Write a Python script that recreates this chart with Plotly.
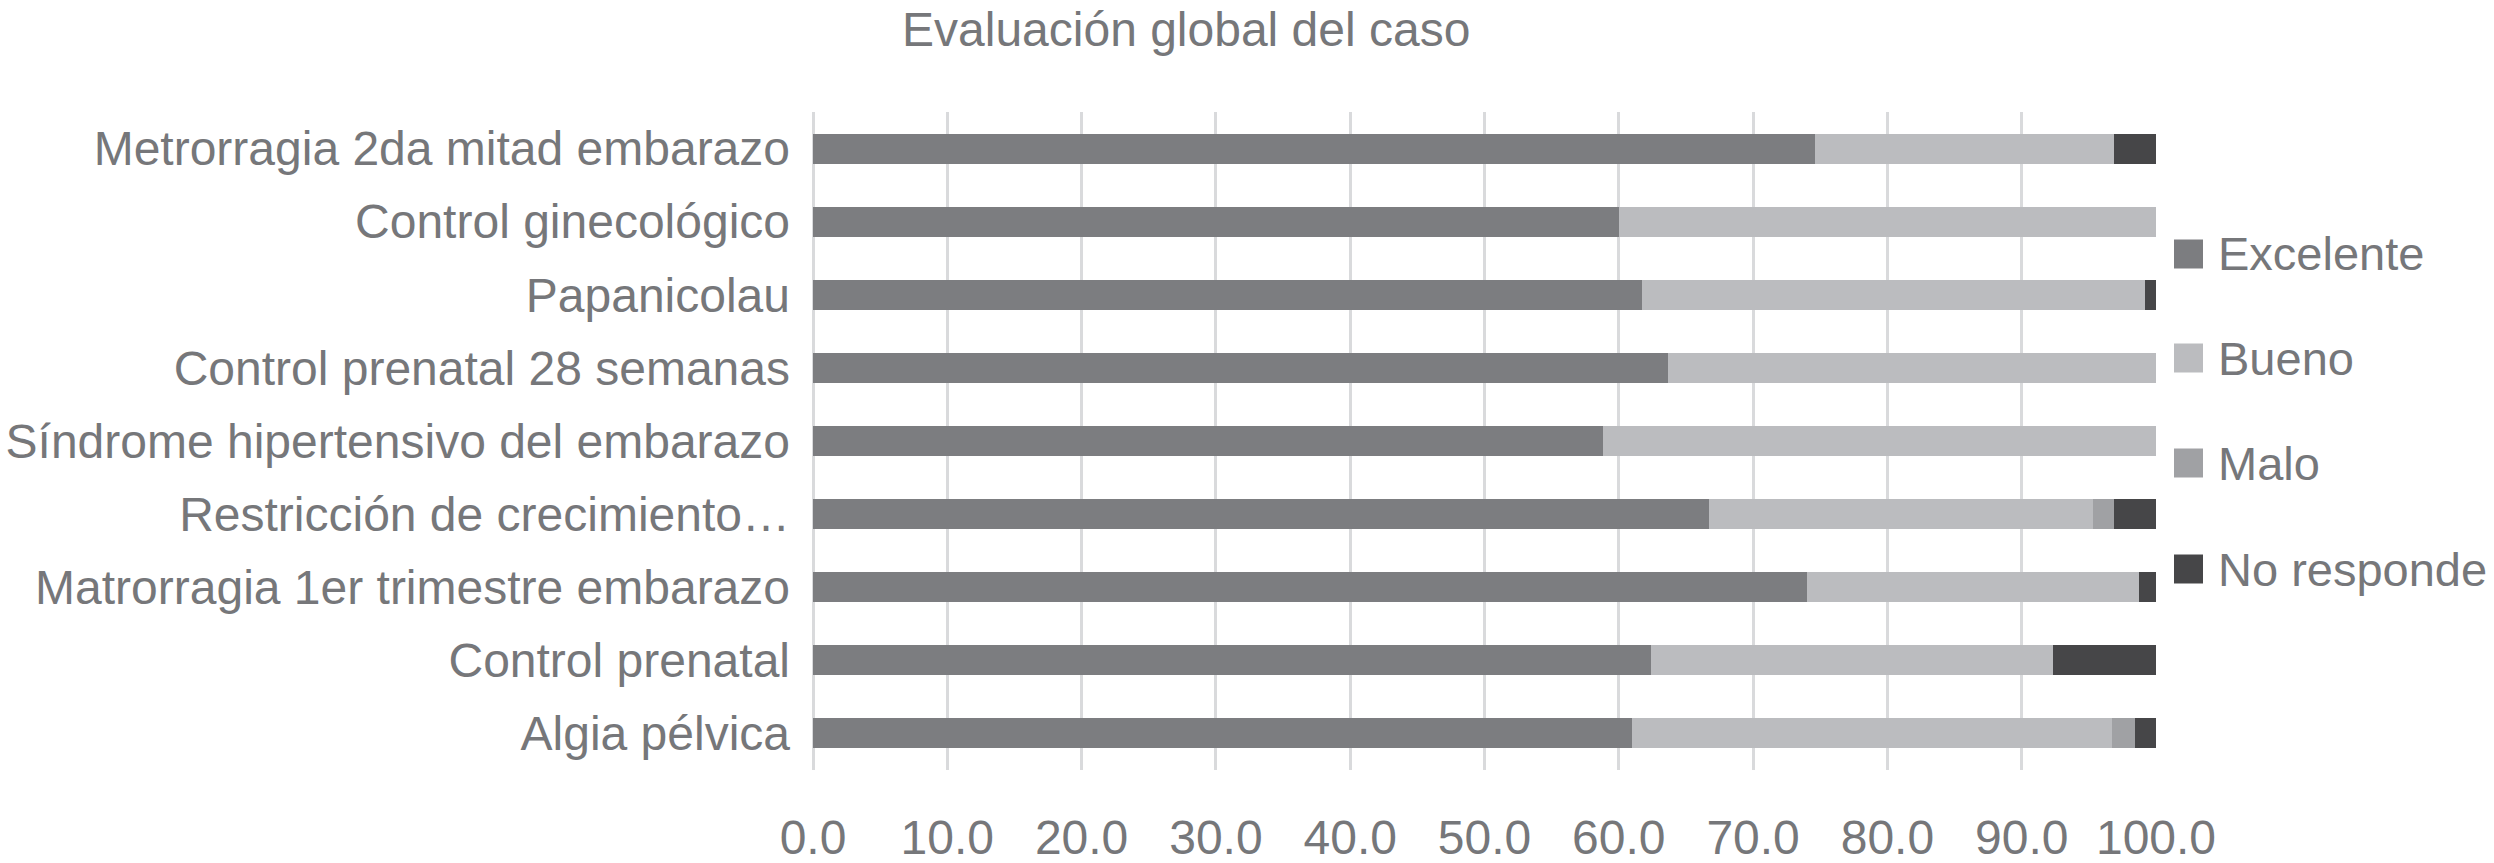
import plotly.graph_objects as go

categories = [
    "Metrorragia 2da mitad embarazo",
    "Control ginecológico",
    "Papanicolau",
    "Control prenatal 28 semanas",
    "Síndrome hipertensivo del embarazo",
    "Restricción de crecimiento…",
    "Matrorragia 1er trimestre embarazo",
    "Control prenatal",
    "Algia pélvica",
]
excelente = [74.6, 60.0, 61.7, 63.7, 58.8, 66.7, 74.0, 62.4, 61.0]
bueno = [22.3, 40.0, 37.5, 36.3, 41.2, 28.6, 24.7, 29.9, 35.7]
malo = [0.0, 0.0, 0.0, 0.0, 0.0, 1.6, 0.0, 0.0, 1.7]
no_responde = [3.1, 0.0, 0.8, 0.0, 0.0, 3.1, 1.3, 7.7, 1.6]

series_names = ["Excelente", "Bueno", "Malo", "No responde"]
series_values = [excelente, bueno, malo, no_responde]
series_colors = ["#7c7d80", "#bbbcbf", "#a0a1a4", "#464648"]

x_ticks = [0, 10, 20, 30, 40, 50, 60, 70, 80, 90, 100]
x_tick_labels = [f"{v:.1f}" for v in x_ticks]

title_text = "Evaluación global del caso"

TEXT = "#76777a"
FONT = "Liberation Sans, Arial, Helvetica, sans-serif"
W, H = 2494, 863
L, R, T, B = 813, 2156, 112, 770

fig = go.Figure()
for name, vals, col in zip(series_names, series_values, series_colors):
    fig.add_trace(go.Bar(
        y=categories, x=vals, name=name, orientation="h",
        marker=dict(color=col, line=dict(width=0)),
        showlegend=False,
    ))

# manual legend (large square swatches like the original)
leg_centers = [254, 358, 463, 569]
sq = 29
for name, col, cy in zip(series_names, series_colors, leg_centers):
    x0 = (2174 - L) / (R - L)
    x1 = (2174 + sq - L) / (R - L)
    y0 = (B - (cy + sq / 2)) / (B - T)
    y1 = (B - (cy - sq / 2)) / (B - T)
    fig.add_shape(type="rect", xref="paper", yref="paper",
                  x0=x0, x1=x1, y0=y0, y1=y1,
                  fillcolor=col, line=dict(width=0))
    fig.add_annotation(text=name, xref="paper", yref="paper",
                       x=(2216 - L) / (R - L), y=(B - cy) / (B - T),
                       xanchor="left", yanchor="middle", showarrow=False,
                       font=dict(family=FONT, size=47, color=TEXT))

fig.update_layout(
    width=W, height=H,
    barmode="stack",
    bargap=0.59,
    plot_bgcolor="white",
    paper_bgcolor="white",
    margin=dict(l=L, r=W - R, t=T, b=H - B, pad=0),
    font=dict(family=FONT, size=48, color=TEXT),
    title=dict(text=title_text, x=902 / W, xanchor="left",
               y=1 - 29 / H, yanchor="middle", xref="container", yref="container",
               font=dict(family=FONT, size=48, color=TEXT)),
    xaxis=dict(
        range=[0, 100], tickvals=x_ticks, ticktext=x_tick_labels,
        showgrid=True, gridcolor="#d9dadc", gridwidth=3,
        zeroline=True, zerolinecolor="#d9dadc", zerolinewidth=3,
        showline=False, ticks="", ticklabelstandoff=35,
        tickfont=dict(family=FONT, size=48, color=TEXT),
        automargin=False, fixedrange=True,
    ),
    yaxis=dict(
        autorange="reversed", showgrid=False, zeroline=False,
        showline=False, ticks="", ticklabelstandoff=22,
        tickfont=dict(family=FONT, size=48, color=TEXT),
        automargin=False, fixedrange=True,
    ),
)

fig.write_html(
    "out.html",
    config={"displayModeBar": False},
    post_script="document.body.style.margin='0px';document.body.style.overflow='hidden';",
)
